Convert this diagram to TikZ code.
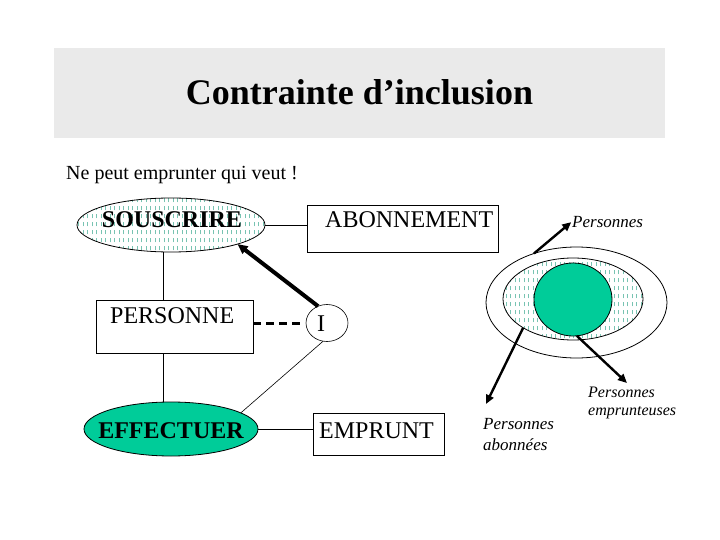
\documentclass[tikz,border=0pt]{standalone}
\usepackage{fontspec}
\setmainfont{Liberation Serif}
\usetikzlibrary{arrows.meta,shapes.geometric,patterns,calc}
\pgfdeclarepatternformonly{vdash}{\pgfpoint{-1pt}{-1pt}}{\pgfpoint{5.5pt}{9pt}}{\pgfpoint{4.5pt}{8pt}}{%
  \pgfsetlinewidth{0.7pt}%
  \pgfpathmoveto{\pgfpoint{2pt}{1.5pt}}\pgfpathlineto{\pgfpoint{2pt}{6pt}}\pgfusepath{stroke}}
\definecolor{mint}{RGB}{0,204,153}
\definecolor{band}{RGB}{234,234,234}
\definecolor{dotc}{RGB}{120,195,178}
\begin{document}
\begin{tikzpicture}[x=1pt,y=-1pt,
  ell/.style={ellipse, draw, line width=0.8pt, inner sep=0pt, outer sep=0pt},
  box/.style={rectangle, draw, line width=0.8pt, inner sep=0pt, outer sep=0pt},
  txt/.style={inner sep=0pt, font=\fontsize{24}{28}\selectfont},
  btxt/.style={inner sep=0pt, font=\fontsize{24}{28}\selectfont\bfseries},
  itx/.style={inner sep=0pt, align=left, font=\fontsize{17}{21}\selectfont\itshape},
  link/.style={line width=0.8pt},
  arr/.style={line width=2.4pt, -{Triangle[length=9pt,width=8pt]}},
  dotted fill/.style={pattern=vdash, pattern color=dotc}]
\useasboundingbox (0,0) rectangle (720,540);
\fill[band] (54,48) rectangle (665,138);
\node[anchor=base, inner sep=0pt, font=\fontsize{36}{40}\selectfont\bfseries] (title) at (359.5,105) {Contrainte d’inclusion};
\node[anchor=base west, inner sep=0pt, font=\fontsize{20}{24}\selectfont] (sub) at (66,180) {Ne peut emprunter qui veut !};

% left diagram
\node[ell, dotted fill, minimum width=188pt, minimum height=54pt] (sous) at (171,225) {};
\node[btxt, anchor=base] (soust) at (172,228) {SOUSCRIRE};
\node[ell, fill=mint, minimum width=174pt, minimum height=54pt] (eff) at (171,429) {};
\node[btxt, anchor=base] (efft) at (171,438) {EFFECTUER};
\node[box, minimum width=157pt, minimum height=53pt] (pers) at (174.5,326.5) {};
\node[txt, anchor=base west] (perst) at (110,323) {PERSONNE};
\node[box, minimum width=191pt, minimum height=47pt] (abon) at (402.5,228.5) {};
\node[txt, anchor=base west] (abont) at (325,227) {ABONNEMENT};
\node[box, minimum width=131pt, minimum height=42pt] (emp) at (378.5,434) {};
\node[txt, anchor=base west] (empt) at (319,438) {EMPRUNT};
\node[ell, line width=0.6pt, minimum width=42pt, minimum height=37pt] (iel) at (327,323) {};
\node[txt, anchor=base] (ielt) at (321,331) {I};

\coordinate (colx) at (163,0);
\draw[link] (sous.east) -- (sous.east -| abon.west);
\draw[link] (sous.south -| colx) -- (pers.north -| colx);
\draw[link] (pers.south -| colx) -- (eff.north -| colx);
\draw[link] (eff.east) -- (eff.east -| emp.west);
\draw[line width=0.6pt] (eff.13) -- (iel.258);
\draw[line width=3pt, dash pattern=on 8pt off 5pt, shorten >=6pt] (pers.east |- iel.west) -- (iel.west);
\draw[line width=4pt, -{Triangle[length=10pt,width=9pt]}] (iel.118) -- (sous.344);

% right diagram
\node[ell, minimum width=181pt, minimum height=111pt] (outer) at (576.5,302.5) {};
\node[ell, dotted fill, minimum width=140pt, minimum height=82pt] (inner) at (573,299) {};
\node[ell, fill=mint, minimum width=78pt, minimum height=73pt] (core) at (573,299.5) {};
\node[itx, anchor=base west] (lab1) at (572,227) {Personnes};
\node[itx, anchor=base west] (lab2) at (483,450) {Personnes\\abonnées};
\node[itx, anchor=base west, font=\fontsize{16}{18}\selectfont\itshape] (lab3) at (588,415) {Personnes\\emprunteuses};
\coordinate (t2) at (486,404);
\coordinate (t3) at (627,383);
\draw[arr, shorten >=1pt] (outer.131) -- (lab1.west);
\draw[arr] (inner.210) -- (t2);
\draw[arr] (core.276) -- (t3);
\end{tikzpicture}
\end{document}
